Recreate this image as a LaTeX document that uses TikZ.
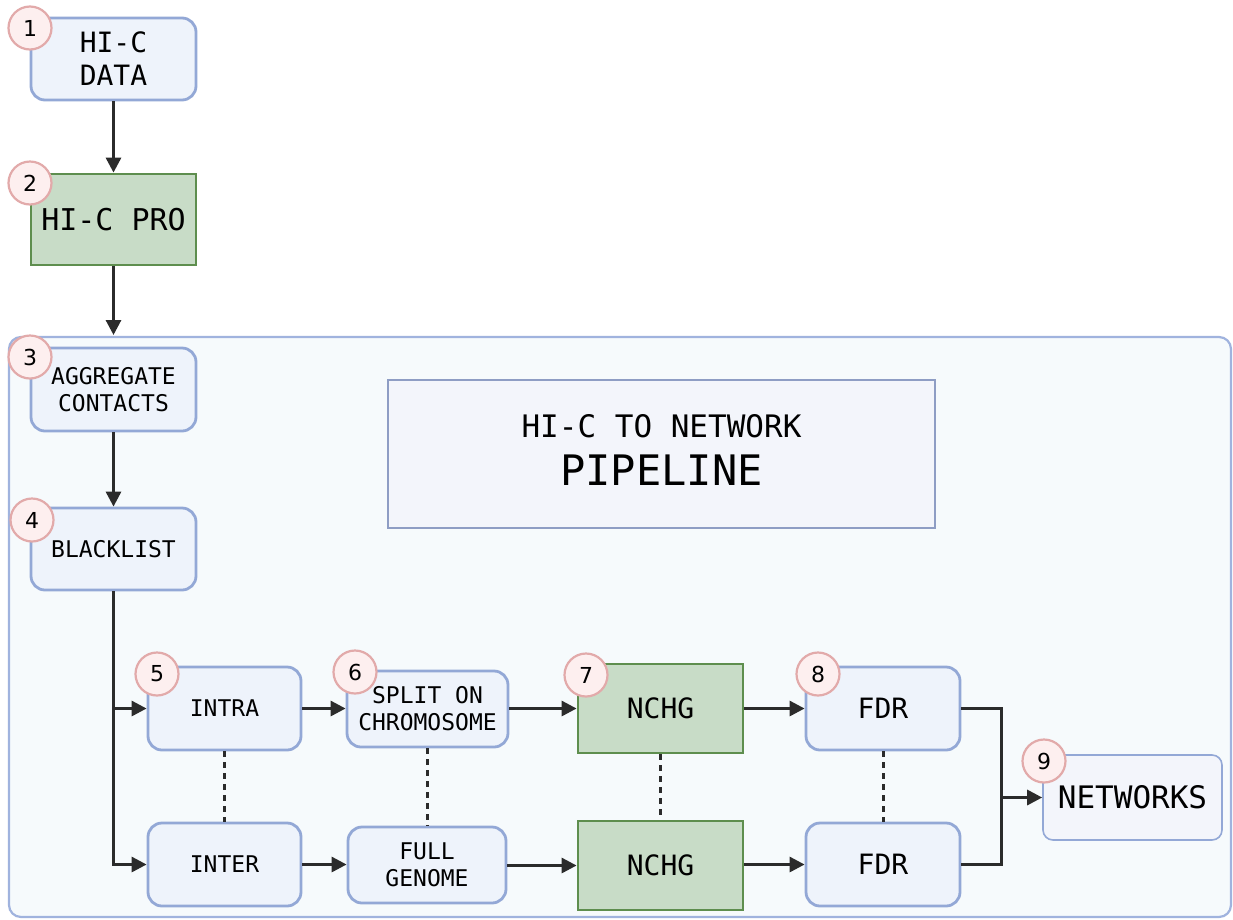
\documentclass[tikz,border=0pt]{standalone}
\usepackage{fontspec}
\newfontfamily\monof{DejaVu Sans Mono}
\newfontfamily\badgef{DejaVu Sans}
\usetikzlibrary{arrows.meta}
\definecolor{bfill}{HTML}{EEF3FB}
\definecolor{bdraw}{HTML}{93A8D6}
\definecolor{gfill}{HTML}{C8DCC7}
\definecolor{gdraw}{HTML}{5E8E4E}
\definecolor{cfill}{HTML}{F6FAFC}
\definecolor{cdraw}{HTML}{A0B3DE}
\definecolor{tfill}{HTML}{F3F5FB}
\definecolor{tdraw}{HTML}{8E9DC4}
\definecolor{kfill}{HTML}{FDEFEF}
\definecolor{kdraw}{HTML}{E2AAAA}
\definecolor{ink}{HTML}{2B2B2B}
\tikzset{
  bluebox/.style={draw=bdraw, fill=bfill, line width=2.8pt, rounded corners=14pt, inner sep=0pt, align=center, font=\monof\fontsize{23}{27}\selectfont},
  greenbox/.style={draw=gdraw, fill=gfill, line width=2.8pt, inner sep=0pt, align=center, font=\monof\fontsize{28}{33}\selectfont},
  badge/.style={circle, draw=kdraw, fill=kfill, line width=2.2pt, minimum size=43pt, inner sep=0pt, font=\badgef\fontsize{22}{26}\selectfont},
  flow/.style={draw=ink, line width=3pt, -{Triangle[length=15pt,width=15pt]}},
  plain/.style={draw=ink, line width=3pt},
  dotline/.style={draw=ink, line width=3pt, dash pattern=on 6pt off 5pt}
}
\begin{document}
\begin{tikzpicture}[x=1pt,y=-1pt]
\useasboundingbox (0,0) rectangle (1233,919);
\fill[white] (0,0) rectangle (1233,919);
% container
\draw[draw=cdraw, fill=cfill, line width=2.2pt, rounded corners=12pt] (9,337) rectangle (1231,917);
\coordinate (ctop) at (113.5,335);

% title box
\node[draw=tdraw, fill=tfill, line width=2pt, minimum width=547pt, minimum height=148pt, inner sep=0pt] (title) at (661.5,454) {};
\node[font=\monof\fontsize{31}{36}\selectfont, anchor=base, inner sep=0pt] (t1) at (661.5,437) {HI-C TO NETWORK};
\node[font=\monof\fontsize{42}{48}\selectfont, anchor=base, inner sep=0pt] (t2) at (661.5,485) {PIPELINE};

% nodes
\node[bluebox, minimum width=165pt, minimum height=82pt, font=\monof\fontsize{28}{33}\selectfont] (n1) at (113.5,59) {HI-C\\DATA};
\node[greenbox, minimum width=165pt, minimum height=91pt, font=\monof\fontsize{30}{35}\selectfont] (n2) at (113.5,219.5) {HI-C PRO};
\node[bluebox, minimum width=165pt, minimum height=83pt] (n3) at (113.5,389.5) {AGGREGATE\\CONTACTS};
\node[bluebox, minimum width=165pt, minimum height=82pt] (n4) at (113.5,549) {BLACKLIST};
\node[bluebox, minimum width=153pt, minimum height=83pt] (n5a) at (224.5,708.5) {INTRA};
\node[bluebox, minimum width=153pt, minimum height=83pt] (n5b) at (224.5,864.5) {INTER};
\node[bluebox, minimum width=161pt, minimum height=76pt] (n6a) at (427.5,709) {SPLIT ON\\CHROMOSOME};
\node[bluebox, minimum width=158pt, minimum height=76pt] (n6b) at (427,865) {FULL\\GENOME};
\node[greenbox, minimum width=165pt, minimum height=89pt] (n7a) at (660.5,708.5) {NCHG};
\node[greenbox, minimum width=165pt, minimum height=89pt] (n7b) at (660.5,865.5) {NCHG};
\node[bluebox, minimum width=154pt, minimum height=83pt, font=\monof\fontsize{28}{33}\selectfont] (n8a) at (883,708.5) {FDR};
\node[bluebox, minimum width=154pt, minimum height=83pt, font=\monof\fontsize{28}{33}\selectfont] (n8b) at (883,864.5) {FDR};
\node[draw=bdraw, fill=tfill, line width=1.6pt, rounded corners=10pt, minimum width=179pt, minimum height=85pt, inner sep=0pt, font=\monof\fontsize{31}{36}\selectfont] (n9) at (1132.5,797.5) {NETWORKS};

% connectors
\draw[flow] (n1.south) -- (n2.north);
\draw[flow] (n2.south) -- (ctop);
\draw[flow] (n3.south) -- (n4.north);
\draw[flow] (n4.south) |- (n5a.west);
\draw[flow] (n4.south) |- (n5b.west);
\draw[flow] (n5a.east) -- (n6a.west |- n5a.east);
\draw[flow] (n5b.east) -- (n6b.west |- n5b.east);
\draw[flow] (n6a.east |- n7a.west) -- (n7a.west);
\draw[flow] (n6b.east |- n7b.west) -- (n7b.west);
\draw[flow] (n7a.east) -- (n8a.west);
\draw[flow] (n7b.east |- n8b.west) -- (n8b.west);
\coordinate (jt) at (1001,708.5);
\coordinate (jb) at (1001,864.5);
\draw[plain, line join=miter] (n8a.east) -- (jt) -- (jb) -- (n8b.east);
\draw[flow] (jt |- n9.west) -- (n9.west);

% dotted links
\draw[dotline] (n5a.south) -- (n5b.north);
\draw[dotline] (n6a.south) -- (n6a.south |- n6b.north);
\draw[dotline] (n7a.south) -- (n7b.north);
\draw[dotline] (n8a.south) -- (n8b.north);

% badges
\node[badge] (b1) at (30,28) {1};
\node[badge] (b2) at (30,183) {2};
\node[badge] (b3) at (30,357) {3};
\node[badge] (b4) at (32,520) {4};
\node[badge] (b5) at (157,674) {5};
\node[badge] (b6) at (355,672) {6};
\node[badge] (b7) at (586,675) {7};
\node[badge] (b8) at (818,674) {8};
\node[badge] (b9) at (1044,761) {9};
\end{tikzpicture}
\end{document}
